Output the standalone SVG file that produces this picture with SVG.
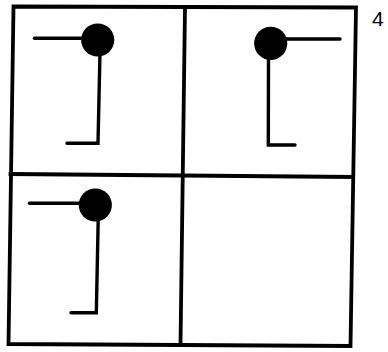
<svg xmlns="http://www.w3.org/2000/svg" width="388" height="352" viewBox="0 0 388 352">
<style>
.frame{fill:none;stroke:#000;stroke-width:3.8;stroke-linejoin:miter;stroke-linecap:square}
.stem{fill:none;stroke:#000;stroke-width:3.4;stroke-linecap:round;stroke-linejoin:miter}
.knob{fill:#000}
.lbl{font-family:"Liberation Sans",Arial,sans-serif;font-size:21px;fill:#000}
</style>
<rect width="388" height="352" fill="#fff"/>
<g id="grid">
<path class="frame" d="M13.5,6.5 L356,7.5 L350.5,346 L8.5,344 Z"/>
<path class="frame" d="M185,7 L180.5,345"/>
<path class="frame" d="M10.5,174 L353,177"/>
</g>
<g id="cell-top-left">
<path class="stem" d="M34.5,38.3 L90,38.3"/>
<path class="stem" d="M100,52 L98,143.3 L67,143.3"/>
<circle class="knob" cx="97.7" cy="40" r="16.6"/>
</g>
<g id="cell-top-right">
<path class="stem" d="M280,39 L340,39"/>
<path class="stem" d="M268.5,55 L268.3,145 L295,145"/>
<circle class="knob" cx="270.7" cy="43.3" r="16.6"/>
</g>
<g id="cell-bottom-left">
<path class="stem" d="M29.5,203.3 L88,203.3"/>
<path class="stem" d="M98.3,215 L96.3,312.7 L71,312.7"/>
<circle class="knob" cx="95.3" cy="205" r="16.6"/>
</g>
<g id="cell-bottom-right"></g>
<text class="lbl" x="372" y="25.5">4</text>
</svg>
